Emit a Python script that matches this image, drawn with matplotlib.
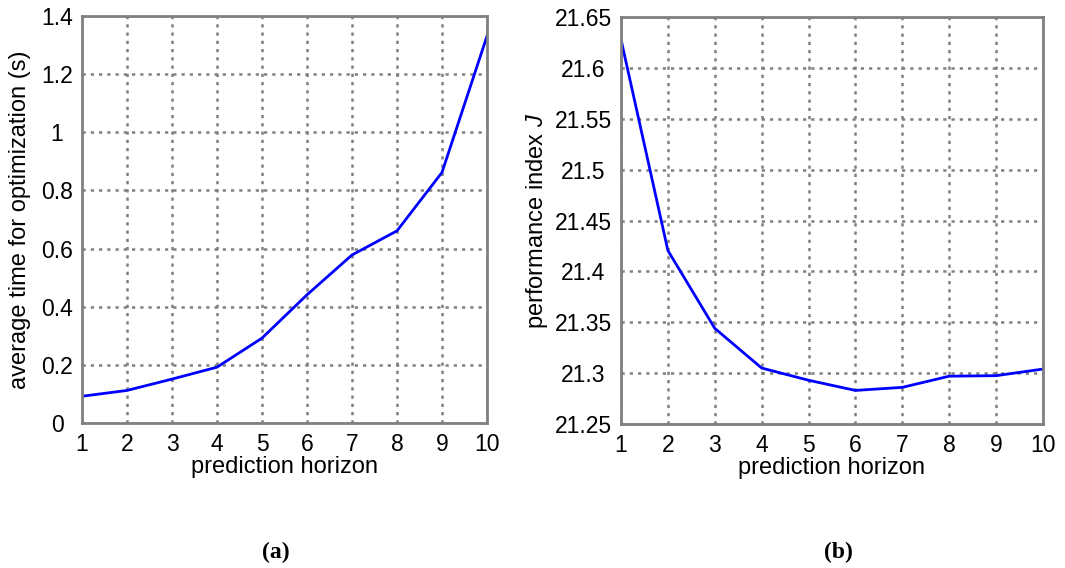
import numpy as np
import matplotlib.pyplot as plt

plt.rcParams['font.family'] = ['Liberation Sans', 'DejaVu Sans']
plt.rcParams['mathtext.fontset'] = 'custom'
plt.rcParams['mathtext.rm'] = 'Liberation Sans'
plt.rcParams['mathtext.it'] = 'Liberation Sans:italic'

horizon = [1, 2, 3, 4, 5, 6, 7, 8, 9, 10]
avg_time = [0.092, 0.112, 0.151, 0.192, 0.292, 0.441, 0.578, 0.661, 0.862, 1.331]
perf_J = [21.628, 21.4205, 21.344, 21.305, 21.293, 21.283, 21.286, 21.297, 21.2975, 21.304]

fig = plt.figure(figsize=(10.65, 5.68), dpi=100)
ax1 = fig.add_axes([82 / 1065, 1 - 423 / 568, 405 / 1065, 407 / 568])
ax2 = fig.add_axes([621 / 1065, 1 - 424 / 568, 422 / 1065, 407 / 568])


def style(ax, ypad):
	for s in ax.spines.values():
		s.set_color('#808080')
		s.set_linewidth(2)
	ax.grid(True, color='#808080', linestyle=(0, (1.3, 2.0)), linewidth=1.8)
	ax.tick_params(axis='x', length=0, labelsize=16.5, pad=7)
	ax.tick_params(axis='y', length=0, labelsize=16.5, pad=ypad)
	for t in ax.get_yticklabels():
		t.set_horizontalalignment('center')
	ax.set_xlim(1, 10)
	ax.set_xlabel('prediction horizon', fontsize=17)
	ax.xaxis.label.set_verticalalignment('center')
	ax.xaxis.set_label_coords(0.5, -0.108)


ax1.plot(horizon, avg_time, color='#0000ff', linewidth=2)
ax1.set_xticks(horizon)
ax1.set_ylim(0, 1.4)
ax1.set_yticks([0, 0.2, 0.4, 0.6, 0.8, 1, 1.2, 1.4])
ax1.set_yticklabels(['0', '0.2', '0.4', '0.6', '0.8', '1', '1.2', '1.4'])
style(ax1, 18)
ax1.set_ylabel('average time for optimization (s)', fontsize=17, va='center')
ax1.yaxis.set_label_coords(-0.153, 0.5)

ax2.plot(horizon, perf_J, color='#0000ff', linewidth=2)
ax2.set_xticks(horizon)
ax2.set_ylim(21.25, 21.65)
yt = [21.25, 21.3, 21.35, 21.4, 21.45, 21.5, 21.55, 21.6, 21.65]
ax2.set_yticks(yt)
ax2.set_yticklabels(['21.25', '21.3', '21.35', '21.4', '21.45', '21.5', '21.55', '21.6', '21.65'])
style(ax2, 27)
ax2.set_ylabel('performance index $\\mathit{J}$', fontsize=17, va='center')
ax2.yaxis.set_label_coords(-0.199, 0.5)

fig.text(276 / 1065, 1 - 552 / 568, '(a)', fontsize=17, fontweight='bold',
	family='Liberation Serif', ha='center', va='center')
fig.text(838 / 1065, 1 - 552 / 568, '(b)', fontsize=17, fontweight='bold',
	family='Liberation Serif', ha='center', va='center')

fig.savefig('out.png', dpi=100)
